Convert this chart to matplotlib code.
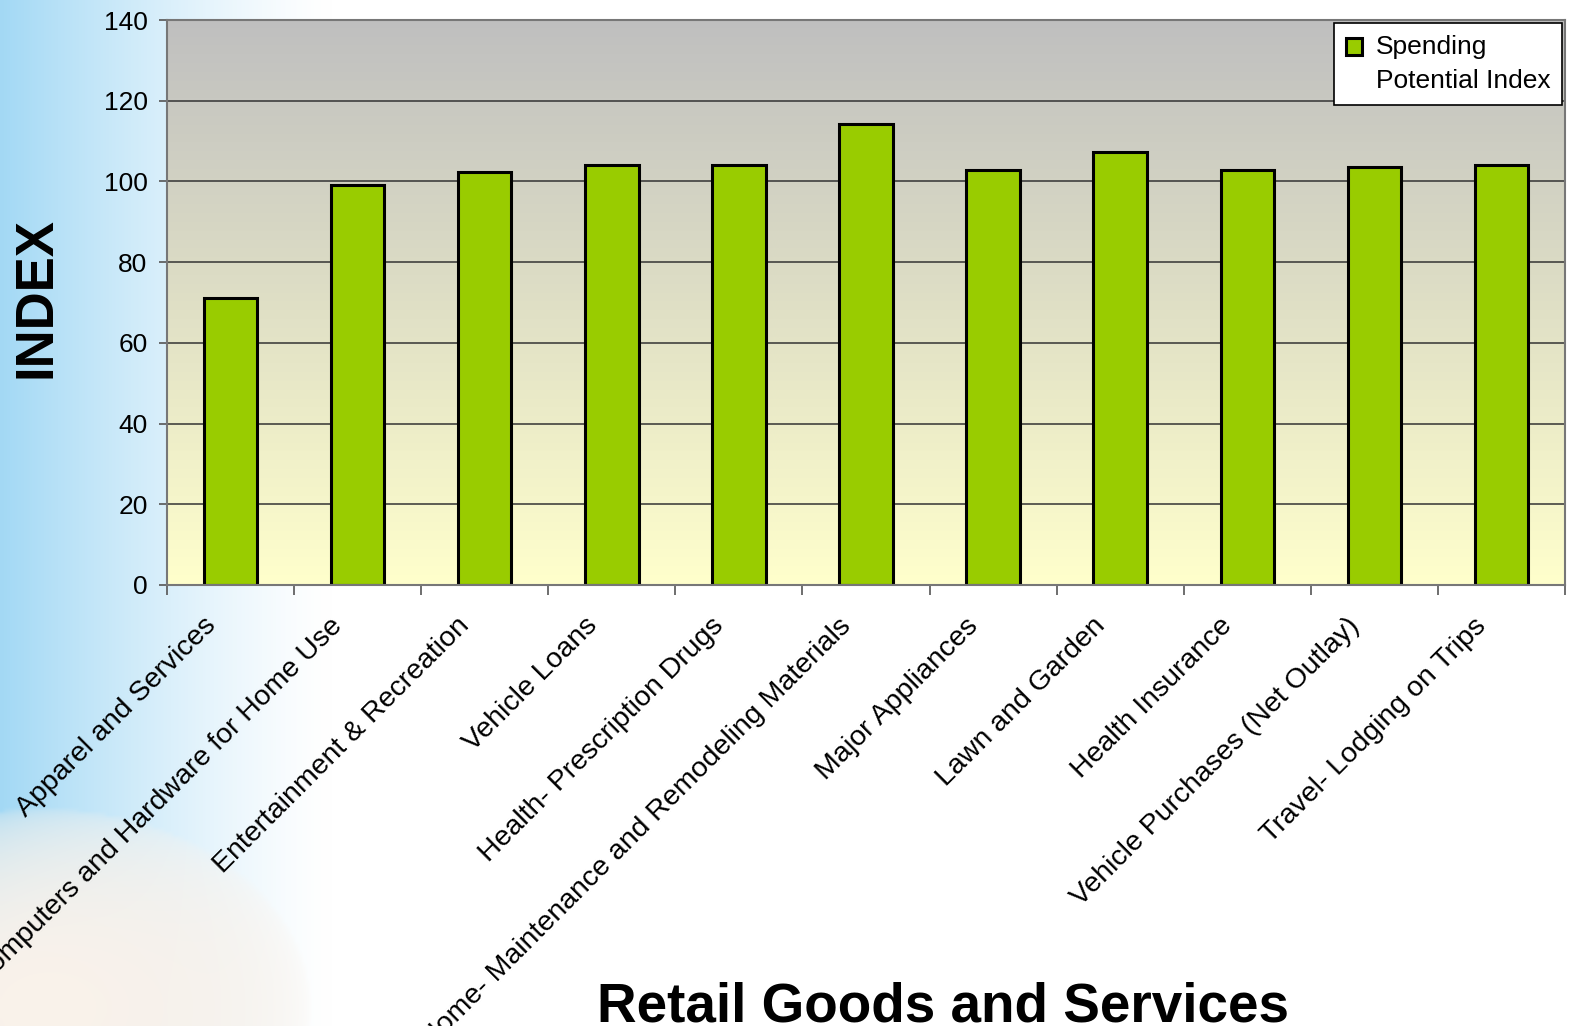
import numpy as np
import matplotlib
matplotlib.use("Agg")
import matplotlib.pyplot as plt
from matplotlib.patches import Rectangle
from matplotlib.container import BarContainer
from matplotlib.legend_handler import HandlerPatch, update_from_first_child
from matplotlib.transforms import ScaledTranslation

plt.rcParams["font.family"] = ["Liberation Sans", "DejaVu Sans"]

categories = [
    "Apparel and Services",
    "Computers and Hardware for Home Use",
    "Entertainment & Recreation",
    "Vehicle Loans",
    "Health- Prescription Drugs",
    "Home- Maintenance and Remodeling Materials",
    "Major Appliances",
    "Lawn and Garden",
    "Health Insurance",
    "Vehicle Purchases (Net Outlay)",
    "Travel- Lodging on Trips",
]
spending_index = [71, 99, 102.3, 104, 104, 114.2, 102.9, 107.3, 102.9, 103.6, 104.1]
yticks = [0, 20, 40, 60, 80, 100, 120, 140]

W, H = 1571, 1026
fig = plt.figure(figsize=(W / 100, H / 100), dpi=100)

# page backdrop: blue fade on the left, cream blob in the lower-left corner
bg = fig.add_axes([0, 0, 1, 1], zorder=-10)
bg.axis("off")
gx, gy = np.meshgrid(np.linspace(0, W, 400), np.linspace(0, H, 260))
blue = np.array([0.64, 0.85, 0.96])
white = np.ones(3)
t = np.clip(1 - gx / 330, 0, 1) ** 1.3
img = white * (1 - t[..., None]) + blue * t[..., None]
cream = np.array([0.98, 0.95, 0.92])
w = np.clip(1 - ((gx - 40) / 270) ** 2 - ((gy - 1010) / 200) ** 2, 0, 1) ** 0.4
img = img * (1 - w[..., None]) + cream * w[..., None]
bg.imshow(img, extent=[0, W, H, 0], aspect="auto", interpolation="bilinear")
bg.set_xlim(0, W)
bg.set_ylim(H, 0)

ax = fig.add_axes([167 / W, 1 - 585 / H, (1565 - 167) / W, (585 - 20) / H])
x = np.arange(len(categories))

# plot area gradient, grey at the top to pale yellow at the bottom
top_c = np.array([0.75, 0.75, 0.75])
bot_c = np.array([1.0, 1.0, 0.80])
s = np.linspace(0, 1, 256)[:, None]
grad = (top_c * (1 - s) + bot_c * s)[:, None, :]
ax.imshow(grad, extent=[-0.5, len(categories) - 0.5, 0, 140], aspect="auto",
          zorder=0, interpolation="bilinear")

ax.bar(x, spending_index, width=0.42, color="#99cc00", edgecolor="black",
       linewidth=2.2, zorder=3, label="Spending\nPotential Index")

ax.set_xlim(-0.5, len(categories) - 0.5)
ax.set_ylim(0, 140)
ax.set_yticks(yticks)
ax.tick_params(axis="y", labelsize=19, length=6, width=1.2, color="#555555", pad=8)
for v in yticks[1:-1]:
    ax.axhline(v, color="#333333", linewidth=1.1, zorder=1)

# category ticks sit between bars, labels under the bars
ax.set_xticks(np.arange(-0.5, len(categories)), labels=[""] * (len(categories) + 1))
ax.tick_params(axis="x", which="major", length=7, width=1.2, color="#555555")
ax.set_xticks(x, labels=categories, minor=True)
ax.tick_params(axis="x", which="minor", length=0, pad=20)
shift = ScaledTranslation(-28 / 100, 0, fig.dpi_scale_trans)
for lab in ax.get_xticklabels(minor=True):
    lab.set_rotation(45)
    lab.set_ha("right")
    lab.set_va("top")
    lab.set_rotation_mode("anchor")
    lab.set_fontsize(20.5)
    lab.set_transform(lab.get_transform() + shift)

for side in ["left", "bottom", "right", "top"]:
    ax.spines[side].set_color("#777777")
    ax.spines[side].set_linewidth(1.5)
    ax.spines[side].set_zorder(4)


# legend swatch sits next to the first line of the two-line label
def top_square(legend, orig_handle, xdescent, ydescent, width, height, fontsize):
    side = 0.62 * fontsize
    return Rectangle((-xdescent, -ydescent + 0.7 * fontsize), side, side)


leg = ax.legend(loc="upper right", fontsize=19, frameon=True, fancybox=False,
                framealpha=1, edgecolor="black", borderaxespad=0.1,
                handlelength=0.7, handletextpad=0.45, borderpad=0.45,
                handler_map={BarContainer: HandlerPatch(
                    patch_func=top_square, update_func=update_from_first_child)})
for txt in leg.get_texts():
    txt.set_linespacing(1.55)
leg.get_frame().set_linewidth(1.2)
leg.set_zorder(5)

fig.text(37 / W, 1 - 298 / H, "INDEX", rotation=90, fontsize=38,
         fontweight="bold", ha="center", va="center")
fig.text(943 / W, 4 / H, "Retail Goods and Services", fontsize=39.5,
         fontweight="bold", ha="center", va="baseline")

fig.savefig("out.png", dpi=100)
